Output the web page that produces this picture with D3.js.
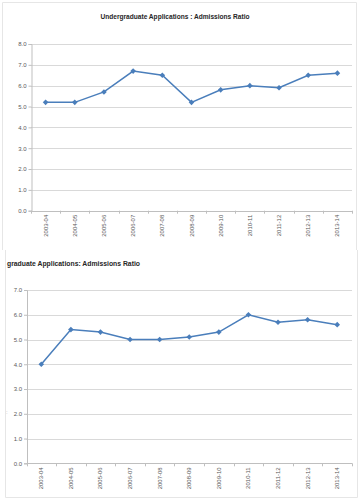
<!DOCTYPE html>
<html><head><meta charset="utf-8">
<script src="https://cdn.jsdelivr.net/npm/d3@7"></script>
<style>body{margin:0;background:#fff}svg{display:block}text{font-family:"Liberation Sans",Arial,sans-serif}</style>
</head><body>
<svg id="c" width="359" height="500"></svg>
<script>
const categories = ["2003-04","2004-05","2005-06","2006-07","2007-08","2008-09","2009-10","2010-11","2011-12","2012-13","2013-14"];
const undergradRatio = [5.2,5.2,5.7,6.7,6.5,5.2,5.8,6.0,5.9,6.5,6.6];
const postgradRatio = [4.0,5.4,5.3,5.0,5.0,5.1,5.3,6.0,5.7,5.8,5.6];
const undergradTicks = [0,1,2,3,4,5,6,7,8];
const postgradTicks = [0,1,2,3,4,5,6,7];
const titles = ["Undergraduate Applications : Admissions Ratio","graduate Applications: Admissions Ratio"];

const svg = d3.select("#c");
const lineColor = "#4a7ebb";

// frames
svg.append("path").attr("d","M2.5,250 V2.5 H356.5 V250").attr("fill","none").attr("stroke","#e6e6e6");
svg.append("path").attr("d","M5.5,250 V497.5 H357.5 V250").attr("fill","none").attr("stroke","#e6e6e6");

function chart(cfg){
  const g = svg.append("g");
  const x = d3.scaleBand().domain(categories).range([cfg.left,352]);
  const y = d3.scaleLinear().domain([0,cfg.max]).range([cfg.bottom,cfg.top]);
  g.append("g").selectAll("line").data(cfg.ticks.slice(1)).join("line")
    .attr("x1",cfg.left).attr("x2",352)
    .attr("y1",d=>Math.round(y(d))+0.5).attr("y2",d=>Math.round(y(d))+0.5)
    .attr("stroke","#d9d9d9").attr("stroke-width",1);
  const ya = d3.axisLeft(y).tickValues(cfg.ticks).tickFormat(d3.format(".1f")).tickSize(3).tickPadding(2);
  const yg = g.append("g").attr("transform",`translate(${cfg.left+0.5},0)`).call(ya);
  yg.select(".domain").attr("stroke","#bfbfbf");
  yg.selectAll(".tick line").attr("stroke","#bfbfbf");
  yg.selectAll(".tick text").attr("font-size","6px").attr("fill","#595959");
  const xg = g.append("g");
  xg.append("line").attr("x1",cfg.left).attr("x2",352)
    .attr("y1",Math.round(cfg.bottom)+0.5).attr("y2",Math.round(cfg.bottom)+0.5).attr("stroke","#bfbfbf");
  const bounds = categories.map(c=>x(c)).concat([352]);
  xg.selectAll("line.t").data(bounds).join("line").attr("class","t")
    .attr("x1",d=>Math.round(d)+0.5).attr("x2",d=>Math.round(d)+0.5)
    .attr("y1",cfg.bottom).attr("y2",cfg.bottom+3).attr("stroke","#bfbfbf");
  xg.selectAll("text").data(categories).join("text")
    .attr("transform",d=>`translate(${x(d)+x.bandwidth()/2+2},${cfg.bottom+4}) rotate(-90)`)
    .attr("text-anchor","end").attr("font-size","6px").attr("fill","#595959").text(d=>d);
  const pts = categories.map((c,i)=>[x(c)+x.bandwidth()/2, y(cfg.values[i])]);
  g.append("path").attr("d",d3.line()(pts)).attr("fill","none").attr("stroke",lineColor).attr("stroke-width",1.5);
  g.selectAll("path.m").data(pts).join("path").attr("class","m")
    .attr("transform",d=>`translate(${d[0]},${d[1]})`)
    .attr("d",d3.symbol(d3.symbolDiamond2,20)).attr("fill",lineColor);
  g.append("text").attr("x",cfg.tx).attr("y",cfg.ty).attr("text-anchor",cfg.anchor)
    .attr("font-size",cfg.tsize).attr("font-weight","bold").attr("fill","#262626")
    .attr("textLength",cfg.tlen).attr("lengthAdjust","spacingAndGlyphs").text(cfg.title);
}

chart({values:undergradRatio,ticks:undergradTicks,max:8,left:31,top:44,bottom:210.7,
  title:titles[0],tx:175,ty:19,anchor:"middle",tsize:"7px",tlen:149});
chart({values:postgradRatio,ticks:postgradTicks,max:7,left:26.5,top:290,bottom:463.3,
  title:titles[1],tx:7,ty:265.5,anchor:"start",tsize:"7.5px",tlen:133});

svg.append("text").attr("x",6).attr("y",414).attr("font-size","6px").attr("fill","#aaa").text(":");
</script>
</body></html>
